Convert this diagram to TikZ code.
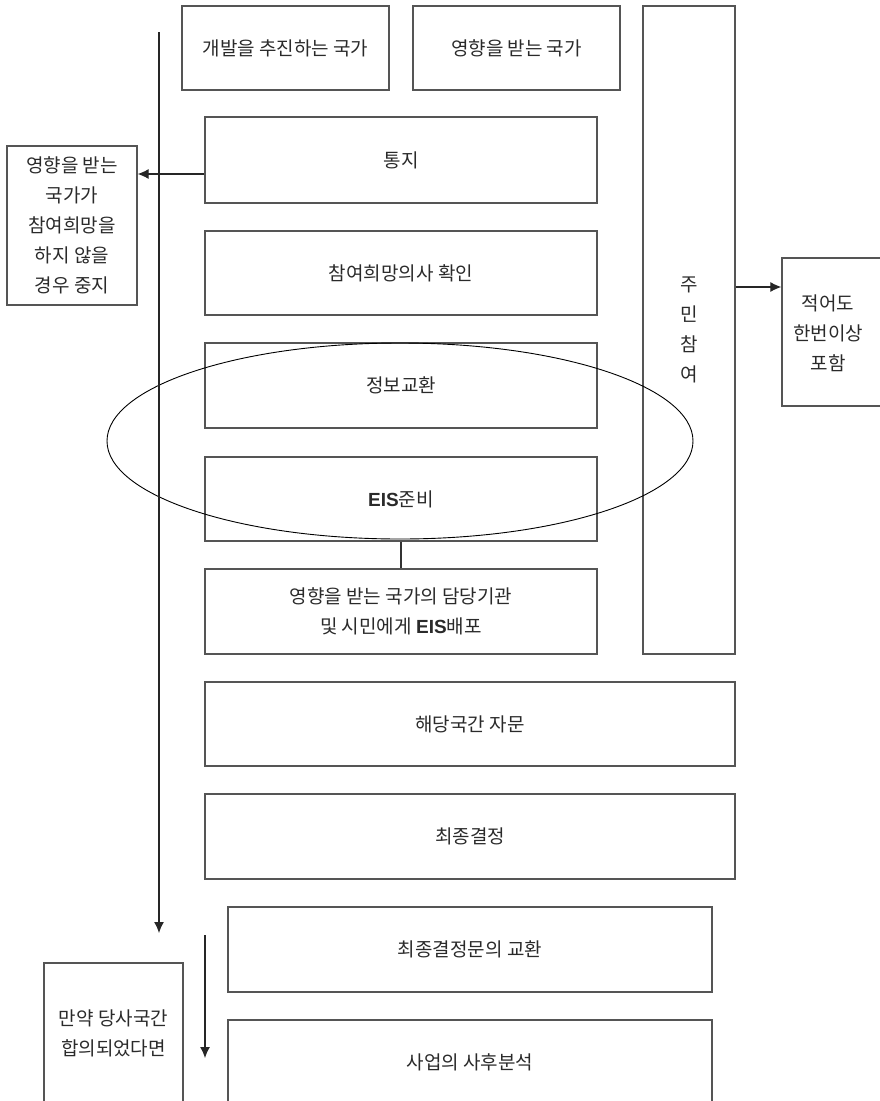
\documentclass[tikz,border=0pt]{standalone}
\usepackage{fontspec}
\setmainfont{Noto Sans CJK KR}
\newfontfamily\latfont{Liberation Sans}
\usetikzlibrary{arrows.meta}
\definecolor{boxline}{HTML}{555555}
\definecolor{txtcol}{HTML}{2A2A2A}
\newcommand{\eis}{{\latfont\bfseries EIS}}
\tikzset{
  box/.style={draw=boxline, line width=1.3pt, rectangle, inner sep=0pt, align=center, text=txtcol,
    font=\fontsize{19pt}{30pt}\selectfont},
  txt/.style={inner sep=0pt, align=center, text=txtcol, font=\fontsize{19pt}{30pt}\selectfont},
  arr/.style={draw=black!85, line width=1.1pt, -{Latex[length=11pt,width=10pt]}},
  conn/.style={draw=black!80, line width=1.1pt}
}
\begin{document}
\begin{tikzpicture}[x=1pt,y=-1pt]
\useasboundingbox (0,0) rectangle (880,1101);
\clip (0,0) rectangle (880,1101);
% top header boxes
\node[box, minimum width=207, minimum height=84] (dev) at (285.5,48) {개발을 추진하는 국가};
\node[box, minimum width=207, minimum height=84] (aff) at (516.5,48) {영향을 받는 국가};
% main column
\node[box, minimum width=392, minimum height=86] (notice) at (401,160) {통지};
\node[box, minimum width=392, minimum height=84] (confirm) at (401,273) {참여희망의사 확인};
\node[box, minimum width=392, minimum height=85] (info) at (401,385.5) {정보교환};
\node[box, minimum width=392, minimum height=84] (prep) at (401,499) {\eis 준비};
\node[box, minimum width=392, minimum height=85] (dist) at (401,611.5) {영향을 받는 국가의 담당기관\\및 시민에게 \eis 배포};
% resident participation
\node[box, minimum width=92, minimum height=648] (resid) at (689,330) {주\\민\\참\\여};
\node[box, minimum width=120, minimum height=148] (atleast) at (842,332) {};
\node[txt] (atleasttxt) at (828,333) {적어도\\한번이상\\포함};
% wide boxes
\node[box, minimum width=530, minimum height=84] (consult) at (470,724) {해당국간 자문};
\node[box, minimum width=530, minimum height=85] (final) at (470,836.5) {최종결정};
\node[box, minimum width=484, minimum height=85] (exch) at (470,949.5) {최종결정문의 교환};
\node[box, minimum width=484, minimum height=85] (post) at (470,1062.5) {사업의 사후분석};
% left side boxes
\node[box, minimum width=130, minimum height=159] (stop) at (72,225.5) {영향을 받는\\국가가\\참여희망을\\하지 않을\\경우 중지};
\node[box, minimum width=139, minimum height=140] (ifagree) at (113.5,1033) {만약 당사국간\\합의되었다면};
% ellipse
\draw[black, line width=0.9pt] (400,441) ellipse [x radius=293, y radius=98];
% connectors
\coordinate (vtop) at (159,32);
\coordinate (vbot) at (159,933);
\draw[arr] (vtop) -- (vbot);
\coordinate (stop2) at (205,935);
\coordinate (sbot) at (205,1058);
\draw[arr] (stop2) -- (sbot);
\draw[arr] ([yshift=-14pt]notice.west) -- ([yshift=-14pt]notice.west -| stop.east);
\draw[arr] ([yshift=43pt]resid.east) -- ([yshift=43pt]resid.east -| atleast.west);
\draw[conn] (prep.south) -- (dist.north);
\end{tikzpicture}
\end{document}
